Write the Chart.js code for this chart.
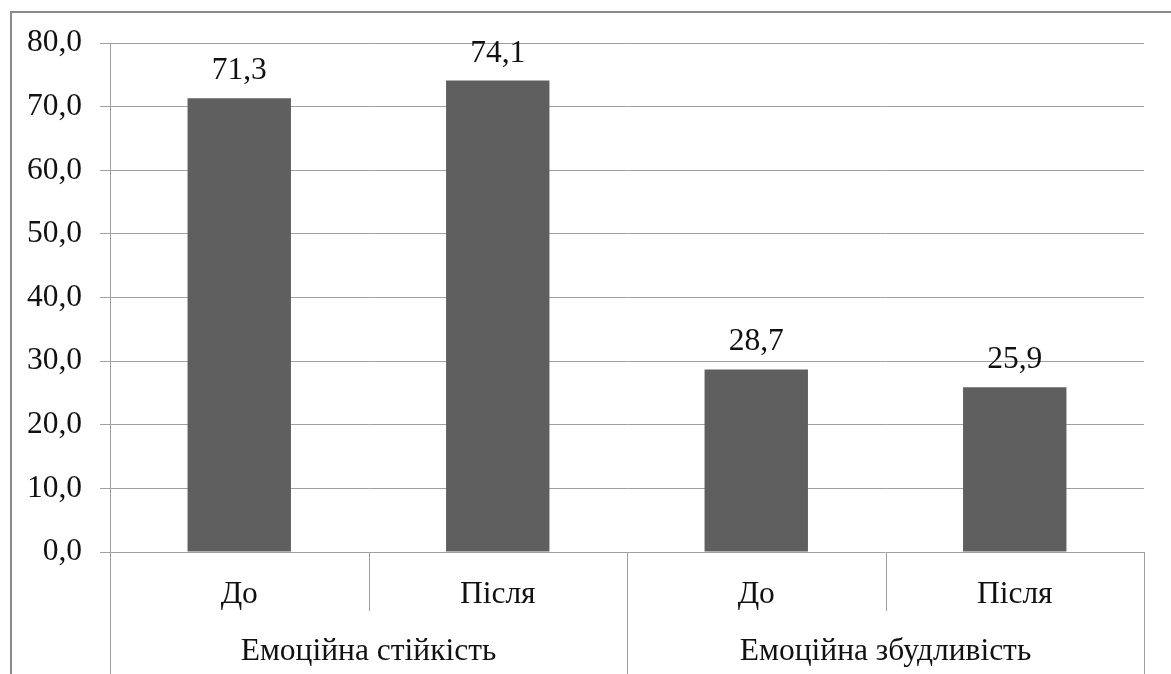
<!DOCTYPE html>
<html>
<head>
<meta charset="utf-8">
<script src="https://cdn.jsdelivr.net/npm/chart.js@4/dist/chart.umd.min.js"></script>
<style>
  html, body { margin: 0; padding: 0; background: #fff; }
  #wrap { width: 1171px; height: 674px; }
</style>
</head>
<body>
<div id="wrap"><canvas id="emoChart" width="1171" height="674"></canvas></div>
<script>
// Groups and the two measurement stages inside each group
const groups = ['Емоційна стійкість', 'Емоційна збудливість'];
const stages = ['До', 'Після'];
// Values per bar, in order: group 1 (До, Після), group 2 (До, Після)
const values = [71.3, 74.1, 28.7, 25.9];
// Y axis range
const yMin = 0;
const yMax = 80;
const yStep = 10;

const serif = '"Liberation Serif", "Times New Roman", serif';
const fontSize = 31.5;
const lineColor = '#a0a0a0';

// one label per bar, built from groups x stages
const labels = [];
groups.forEach(() => stages.forEach(s => labels.push(s)));

const fmt = v => Number(v).toFixed(1).replace('.', ',');

// frame around the whole chart
const framePlugin = {
  id: 'frame',
  beforeDraw(chart) {
    const c = chart.ctx;
    c.save();
    c.strokeStyle = '#8a8a8a';
    c.lineWidth = 2;
    c.strokeRect(11, 12, 1300, 800);
    c.restore();
  }
};

// value above every bar
const valueLabels = {
  id: 'valueLabels',
  afterDatasetsDraw(chart) {
    const c = chart.ctx;
    const meta = chart.getDatasetMeta(0);
    c.save();
    c.font = fontSize + 'px ' + serif;
    c.fillStyle = '#111';
    c.textAlign = 'center';
    c.textBaseline = 'alphabetic';
    meta.data.forEach((bar, i) => {
      c.fillText(fmt(values[i]), bar.x, bar.y - 19);
    });
    c.restore();
  }
};

// two-level category axis: stage labels, group labels and separators
const groupAxis = {
  id: 'groupAxis',
  afterDraw(chart) {
    const c = chart.ctx;
    const x = chart.scales.x;
    const bottom = chart.chartArea.bottom;
    const n = labels.length;
    const half = (x.getPixelForValue(1) - x.getPixelForValue(0)) / 2;
    const per = stages.length;

    c.save();
    c.strokeStyle = lineColor;
    c.lineWidth = 1;
    for (let i = 0; i <= n; i++) {
      const px = Math.round(x.getPixelForValue(i) - half) + 0.5;
      const isGroupEdge = i % per === 0;
      c.beginPath();
      c.moveTo(px, bottom);
      c.lineTo(px, isGroupEdge ? 674 : 611);
      c.stroke();
    }

    c.font = fontSize + 'px ' + serif;
    c.fillStyle = '#111';
    c.textAlign = 'center';
    c.textBaseline = 'alphabetic';
    labels.forEach((lab, i) => {
      c.fillText(lab, x.getPixelForValue(i), 603);
    });
    groups.forEach((g, gi) => {
      const first = x.getPixelForValue(gi * per);
      const last = x.getPixelForValue(gi * per + per - 1);
      c.fillText(g, (first + last) / 2, 660);
    });
    c.restore();
  }
};

new Chart(document.getElementById('emoChart'), {
  type: 'bar',
  data: {
    labels: labels,
    datasets: [{
      data: values,
      backgroundColor: '#5f5f5f',
      borderWidth: 0,
      barPercentage: 0.4,
      categoryPercentage: 1
    }]
  },
  options: {
    responsive: false,
    animation: false,
    layout: { padding: { top: 43, right: 27, bottom: 122, left: 10 } },
    plugins: {
      legend: { display: false },
      tooltip: { enabled: false }
    },
    scales: {
      x: { display: false },
      y: {
        min: yMin,
        max: yMax,
        afterFit(scale) { scale.width = 100; },
        ticks: {
          stepSize: yStep,
          padding: 18,
          color: '#111',
          font: { family: serif, size: fontSize },
          callback: v => fmt(v)
        },
        grid: {
          color: lineColor,
          lineWidth: 1,
          tickLength: 10,
          drawTicks: true
        },
        border: { display: true, color: lineColor }
      }
    }
  },
  plugins: [framePlugin, valueLabels, groupAxis]
});
</script>
</body>
</html>
